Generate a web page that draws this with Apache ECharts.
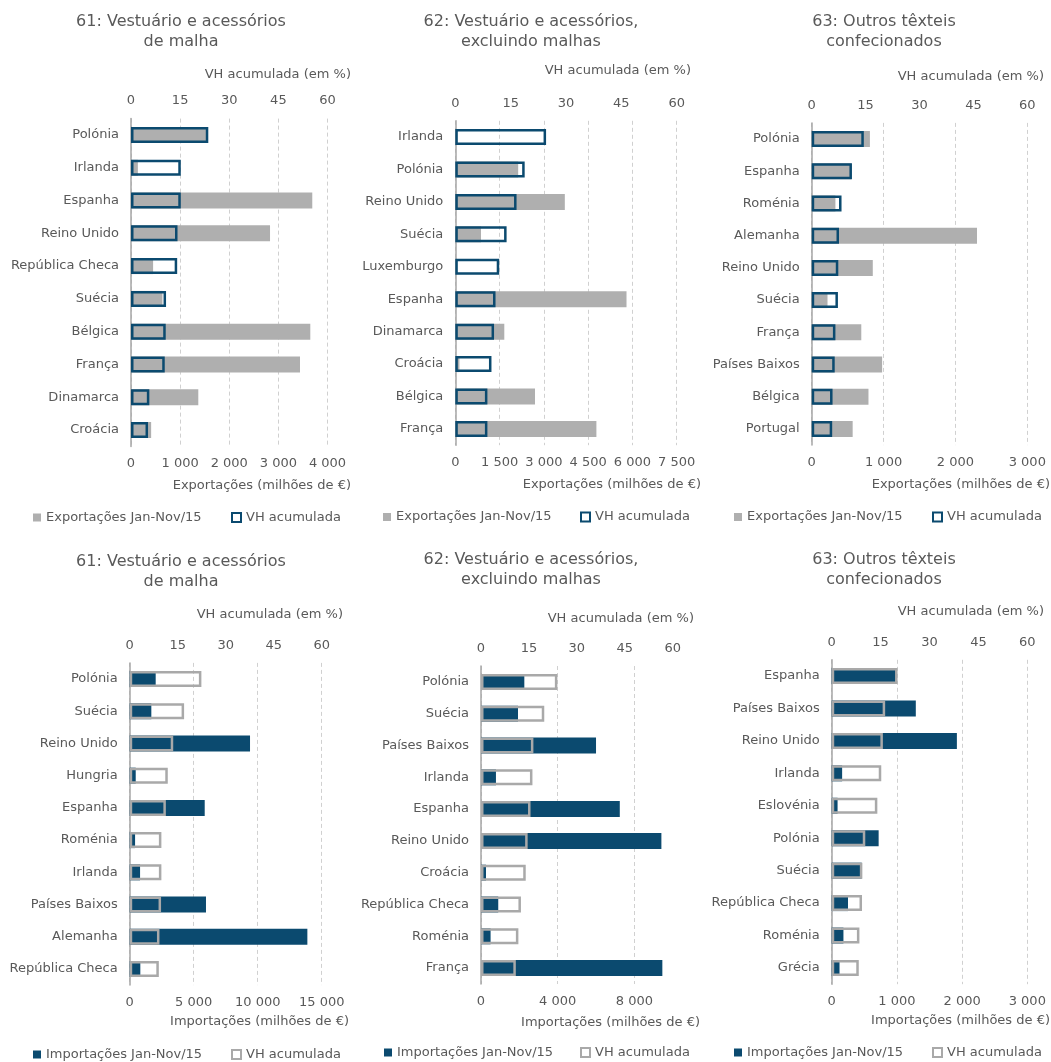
<!DOCTYPE html>
<html>
<head>
<meta charset="utf-8">
<script src="https://cdn.jsdelivr.net/npm/echarts@6/dist/echarts.min.js"></script>
<style>
  html, body { margin: 0; padding: 0; background: #fff; }
  #chart { width: 1051px; height: 1062px; }
</style>
</head>
<body>
<div id="chart"></div>
<script>
// ---- Data: Portuguese trade by destination/origin, Jan-Nov 2015 ----
// Exports, chapter 61 (knitted apparel)
const cats61Exp = ['Polónia', 'Irlanda', 'Espanha', 'Reino Unido', 'República Checa', 'Suécia', 'Bélgica', 'França', 'Dinamarca', 'Croácia'];
const val61Exp  = [1550, 140, 3690, 2830, 450, 640, 3650, 3440, 1370, 410];
const vh61Exp   = [23.6, 15.2, 15.2, 14.2, 14.1, 10.7, 10.6, 10.3, 5.6, 5.2];

// Exports, chapter 62 (apparel, not knitted)
const cats62Exp = ['Irlanda', 'Polónia', 'Reino Unido', 'Suécia', 'Luxemburgo', 'Espanha', 'Dinamarca', 'Croácia', 'Bélgica', 'França'];
const val62Exp  = [60, 2130, 3710, 870, 60, 5800, 1660, 140, 2700, 4780];
const vh62Exp   = [24.6, 18.8, 16.6, 13.9, 11.9, 10.9, 10.5, 9.8, 8.7, 8.7];

// Exports, chapter 63 (other made-up textiles)
const cats63Exp = ['Polónia', 'Espanha', 'Roménia', 'Alemanha', 'Reino Unido', 'Suécia', 'França', 'Países Baixos', 'Bélgica', 'Portugal'];
const val63Exp  = [810, 550, 330, 2300, 850, 220, 690, 980, 790, 570];
const vh63Exp   = [14.5, 11.2, 8.3, 7.6, 7.4, 7.3, 6.6, 6.4, 5.8, 5.7];

// Imports, chapter 61
const cats61Imp = ['Polónia', 'Suécia', 'Reino Unido', 'Hungria', 'Espanha', 'Roménia', 'Irlanda', 'Países Baixos', 'Alemanha', 'República Checa'];
const val61Imp  = [2030, 1690, 9400, 470, 5860, 420, 810, 5960, 13880, 830];
const vh61Imp   = [22.4, 17.0, 13.6, 11.9, 11.3, 9.9, 9.9, 9.8, 9.3, 9.1];

// Imports, chapter 62
const cats62Imp = ['Polónia', 'Suécia', 'Países Baixos', 'Irlanda', 'Espanha', 'Reino Unido', 'Croácia', 'República Checa', 'Roménia', 'França'];
const val62Imp  = [2260, 1930, 6000, 780, 7240, 9410, 260, 900, 500, 9460];
const vh62Imp   = [23.9, 19.8, 16.4, 16.1, 15.5, 14.6, 14.0, 12.5, 11.7, 10.9];

// Imports, chapter 63
const cats63Imp = ['Espanha', 'Países Baixos', 'Reino Unido', 'Irlanda', 'Eslovénia', 'Polónia', 'Suécia', 'República Checa', 'Roménia', 'Grécia'];
const val63Imp  = [1000, 1290, 1920, 160, 90, 720, 460, 250, 180, 120];
const vh63Imp   = [20.2, 16.4, 15.7, 15.2, 14.0, 10.3, 9.4, 9.3, 8.5, 8.3];

// Axis scales (value axis max / step, VH axis max / step)
const valueAxisMax      = [4000, 7500, 3000, 15000, 10000, 3000];
const valueAxisStep     = [1000, 1500, 1000, 5000, 4000, 1000];
const panel5TickValues  = [0, 4000, 8000];
const vhAxis = { max: 60, step: 15 };

// Text
const titles = [
  '61: Vestuário e acessórios\nde malha',
  '62: Vestuário e acessórios,\nexcluindo malhas',
  '63: Outros têxteis\nconfecionados'
];
const NAME_EXP = 'Exportações Jan-Nov/15';
const NAME_IMP = 'Importações Jan-Nov/15';
const NAME_VH  = 'VH acumulada';
const AXIS_EXP = 'Exportações (milhões de €)';
const AXIS_IMP = 'Importações (milhões de €)';
const AXIS_VH  = 'VH acumulada (em %)';

// ---- Layout and styling ----
const FONT = 'DejaVu Sans';
const TXT = '#595959';
const BLUE = '#0B4A6F';
const GREY_FILL = '#AFAFAF';
const GREY_LINE = '#A9A9A9';

const panels = [
  { cats: cats61Exp, val: val61Exp, vh: vh61Exp, exp: true,  title: titles[0],
    grid: { left: 131,   top: 118.6, width: 196.5, height: 327.8 },
    titleXY: [181, 32],   vhXY: [351, 74.5],  axXY: [351, 485.5],  legY: 518,   legX: [33, 231] },
  { cats: cats62Exp, val: val62Exp, vh: vh62Exp, exp: true,  title: titles[1],
    grid: { left: 455.3, top: 120.8, width: 221.4, height: 324.4 },
    titleXY: [531, 31.5], vhXY: [691, 70.5],  axXY: [701, 484.5],  legY: 517.5, legX: [383, 580] },
  { cats: cats63Exp, val: val63Exp, vh: vh63Exp, exp: true,  title: titles[2],
    grid: { left: 811.7, top: 122.9, width: 215.6, height: 322.2 },
    titleXY: [884, 31.5], vhXY: [1044, 77],   axXY: [1050, 484.5], legY: 517.5, legX: [734, 932] },
  { cats: cats61Imp, val: val61Imp, vh: vh61Imp, exp: false, title: titles[0],
    grid: { left: 129.7, top: 662.9, width: 192,   height: 322.2 },
    titleXY: [181, 571.5], vhXY: [343, 615],  axXY: [349, 1022],   legY: 1055,  legX: [33, 231] },
  { cats: cats62Imp, val: val62Imp, vh: vh62Imp, exp: false, title: titles[1],
    grid: { left: 481,   top: 666,   width: 191.7, height: 318 },
    titleXY: [531, 569.5], vhXY: [694, 618.5], axXY: [700, 1023],  legY: 1053,  legX: [384, 580] },
  { cats: cats63Imp, val: val63Imp, vh: vh63Imp, exp: false, title: titles[2],
    grid: { left: 831.7, top: 659.8, width: 195.6, height: 324.4 },
    titleXY: [884, 569.5], vhXY: [1044, 612], axXY: [1050, 1021],  legY: 1053,  legX: [734, 932] }
];

const fmt = v => String(v).replace(/\B(?=(\d{3})+(?!\d))/g, ' ');
const labelStyle = { color: TXT, fontSize: 13, fontFamily: FONT };

const grid = [], xAxis = [], yAxis = [], series = [], legend = [], title = [];

panels.forEach((p, i) => {
  grid.push(Object.assign({ containLabel: false, outerBoundsMode: 'none' }, p.grid));

  // bottom value axis
  const bottom = {
    type: 'value', gridIndex: i, position: 'bottom',
    min: 0, max: valueAxisMax[i], interval: valueAxisStep[i],
    axisLine: { show: false }, axisTick: { show: false },
    splitLine: { show: true, lineStyle: { color: '#D0D0D0', width: 1, type: [4, 3] } },
    axisLabel: Object.assign({ margin: 11, formatter: fmt }, labelStyle)
  };
  if (i === 4) {
    bottom.axisLabel.customValues = panel5TickValues;
    bottom.axisTick.customValues = panel5TickValues;
  }
  xAxis.push(bottom);

  // top VH axis
  xAxis.push({
    type: 'value', gridIndex: i, position: 'top',
    min: 0, max: vhAxis.max, interval: vhAxis.step,
    axisLine: { show: false }, axisTick: { show: false }, splitLine: { show: false },
    axisLabel: Object.assign({ margin: 11 }, labelStyle)
  });

  yAxis.push({
    type: 'category', gridIndex: i, data: p.cats, inverse: true,
    axisLine: { show: true, lineStyle: { color: '#A6A6A6', width: 1.5 } },
    axisTick: { show: false },
    axisLabel: Object.assign({ margin: 12, interval: 0 }, labelStyle)
  });

  const fillColor = p.exp ? GREY_FILL : BLUE;
  const lineColor = p.exp ? BLUE : GREY_LINE;
  const fillName = p.exp ? NAME_EXP : NAME_IMP;

  series.push({
    type: 'bar', name: fillName, xAxisIndex: 2 * i, yAxisIndex: i,
    data: p.val, barWidth: 16, silent: true,
    itemStyle: { color: fillColor },
    emphasis: { disabled: true }
  });
  series.push({
    type: 'bar', name: NAME_VH, xAxisIndex: 2 * i + 1, yAxisIndex: i,
    data: p.vh, barWidth: 16, barGap: '-100%', silent: true,
    itemStyle: { color: 'rgba(0,0,0,0)', borderColor: lineColor, borderWidth: 2.5 },
    emphasis: { disabled: true }
  });

  const legBase = {
    selectedMode: false, padding: 0, icon: 'rect', orient: 'horizontal',
    textStyle: { color: TXT, fontSize: 13, fontFamily: FONT }
  };
  legend.push(Object.assign({}, legBase, {
    left: p.legX[0], top: p.legY - 7, itemWidth: 8, itemHeight: 8,
    data: [{ name: fillName, itemStyle: { color: fillColor, borderWidth: 0 } }]
  }));
  legend.push(Object.assign({}, legBase, {
    left: p.legX[1], top: p.legY - 7, itemWidth: 9, itemHeight: 9,
    data: [{ name: NAME_VH, itemStyle: { color: '#FFFFFF', borderColor: lineColor, borderWidth: 2 } }]
  }));

  // panel heading
  title.push({
    text: p.title, left: p.titleXY[0], top: p.titleXY[1], padding: 0,
    textAlign: 'center', textVerticalAlign: 'middle',
    textStyle: { color: TXT, fontSize: 16, fontWeight: 'normal', fontFamily: FONT, lineHeight: 20 }
  });
  // VH axis name (above top axis)
  title.push({
    text: AXIS_VH, left: p.vhXY[0], top: p.vhXY[1], padding: 0,
    textAlign: 'right', textVerticalAlign: 'middle',
    textStyle: { color: TXT, fontSize: 13, fontWeight: 'normal', fontFamily: FONT }
  });
  // value axis name (below bottom axis)
  title.push({
    text: p.exp ? AXIS_EXP : AXIS_IMP, left: p.axXY[0], top: p.axXY[1], padding: 0,
    textAlign: 'right', textVerticalAlign: 'middle',
    textStyle: { color: TXT, fontSize: 13, fontWeight: 'normal', fontFamily: FONT }
  });
});

const chart = echarts.init(document.getElementById('chart'), null, { renderer: 'canvas' });
chart.setOption({
  backgroundColor: '#FFFFFF',
  animation: false,
  textStyle: { fontFamily: FONT },
  tooltip: { show: false },
  title, legend, grid, xAxis, yAxis, series
});
</script>
</body>
</html>
